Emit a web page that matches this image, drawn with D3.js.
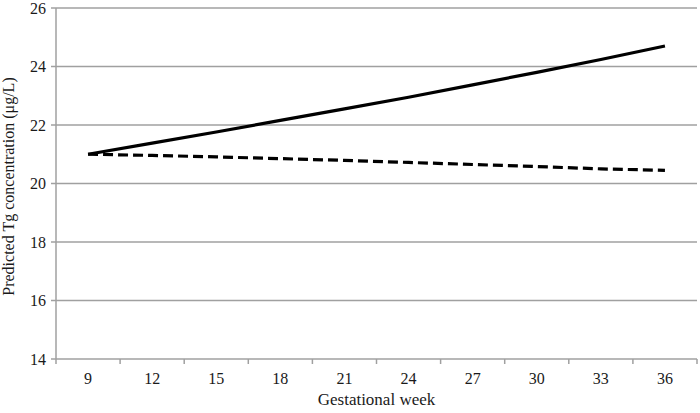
<!DOCTYPE html>
<html>
<head>
<meta charset="utf-8">
<script src="https://cdn.jsdelivr.net/npm/d3@7"></script>
<style>
  body { margin: 0; background: #fff; }
  text { font-family: "Liberation Serif", "Times New Roman", serif; fill: #1a1a1a; }
</style>
</head>
<body>
<script>
// gestational weeks (categories) and predicted Tg values
var weeks = [9, 12, 15, 18, 21, 24, 27, 30, 33, 36];
var solidSeries = [21.0, 21.38, 21.76, 22.16, 22.55, 22.95, 23.37, 23.8, 24.24, 24.7];
var dashedSeries = [21.0, 20.96, 20.91, 20.85, 20.79, 20.72, 20.65, 20.58, 20.5, 20.45];
var yTicks = [14, 16, 18, 20, 22, 24, 26];

var width = 700,
	height = 413;

var margin = {left: 56, right: 3, top: 8, bottom: 54};

var svg = d3.select("body").append("svg")
	.attr("width", width)
	.attr("height", height);

var xScale = d3.scaleBand()
	.domain(weeks)
	.range([margin.left, width - margin.right]);

var yScale = d3.scaleLinear()
	.domain([14, 26])
	.range([height - margin.bottom, margin.top]);

var gridColor = "#a0a0a0";

// horizontal grid
svg.selectAll(".grid")
	.data(yTicks)
	.enter()
	.append("line")
		.attr("class", "grid")
		.attr("x1", margin.left - 5)
		.attr("x2", width - margin.right)
		.attr("y1", function(d){ return yScale(d); })
		.attr("y2", function(d){ return yScale(d); })
		.attr("stroke", gridColor)
		.attr("stroke-width", 1.5);

// y axis line
svg.append("line")
	.attr("x1", margin.left)
	.attr("x2", margin.left)
	.attr("y1", yScale(26))
	.attr("y2", yScale(14))
	.attr("stroke", gridColor)
	.attr("stroke-width", 1.5);

// y tick labels
svg.selectAll(".ylab")
	.data(yTicks)
	.enter()
	.append("text")
		.attr("class", "ylab")
		.attr("x", margin.left - 10)
		.attr("y", function(d){ return yScale(d); })
		.attr("dy", "0.35em")
		.attr("text-anchor", "end")
		.style("font-size", "16px")
		.text(function(d){ return d; });

// x tick marks at category boundaries
var bounds = weeks.map(function(d){ return xScale(d); }).concat([xScale(weeks[weeks.length - 1]) + xScale.bandwidth()]);
svg.selectAll(".xtick")
	.data(bounds)
	.enter()
	.append("line")
		.attr("class", "xtick")
		.attr("x1", function(d){ return d; })
		.attr("x2", function(d){ return d; })
		.attr("y1", yScale(14))
		.attr("y2", yScale(14) + 5)
		.attr("stroke", gridColor)
		.attr("stroke-width", 1.5);

// x tick labels
svg.selectAll(".xlab")
	.data(weeks)
	.enter()
	.append("text")
		.attr("class", "xlab")
		.attr("x", function(d){ return xScale(d) + xScale.bandwidth() / 2; })
		.attr("y", yScale(14) + 25)
		.attr("text-anchor", "middle")
		.style("font-size", "16px")
		.text(function(d){ return d; });

// lines
var line = d3.line()
	.x(function(d, i){ return xScale(weeks[i]) + xScale.bandwidth() / 2; })
	.y(function(d){ return yScale(d); });

svg.append("path")
	.datum(dashedSeries)
	.attr("d", line)
	.attr("fill", "none")
	.attr("stroke", "#000")
	.attr("stroke-width", 3.2)
	.attr("stroke-dasharray", "10,5");

svg.append("path")
	.datum(solidSeries)
	.attr("d", line)
	.attr("fill", "none")
	.attr("stroke", "#000")
	.attr("stroke-width", 3.2);

// axis titles
svg.append("text")
	.attr("x", (margin.left + width - margin.right) / 2)
	.attr("y", height - 8)
	.attr("text-anchor", "middle")
	.style("font-size", "17px")
	.text("Gestational week");

svg.append("text")
	.attr("transform", "translate(14," + ((yScale(14) + yScale(26)) / 2 + 3) + ") rotate(-90)")
	.attr("text-anchor", "middle")
	.style("font-size", "16px")
	.text("Predicted Tg concentration (μg/L)");
</script>
</body>
</html>
